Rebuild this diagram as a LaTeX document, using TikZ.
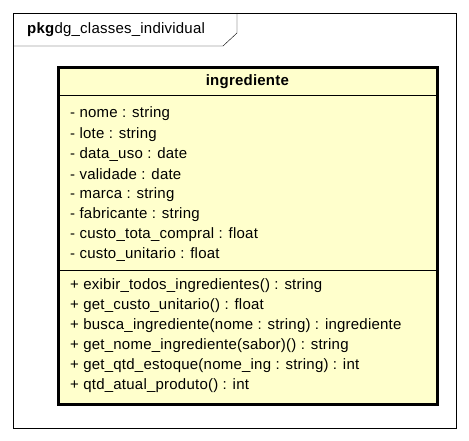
\documentclass[tikz,border=0pt]{standalone}
\usepackage{fontspec}
\setmainfont{Liberation Sans}
\definecolor{classfill}{HTML}{FFFFCC}
\begin{document}
\begin{tikzpicture}[x=1pt, y=-1pt,
    txt/.style={inner sep=0pt, anchor=west, font=\fontsize{15}{17}\selectfont\addfontfeature{LetterSpace=1.5}}]
    \useasboundingbox (0,0) rectangle (469,441);
    % package frame and its tab
    \draw (13,13) rectangle (456,428);
    \draw (13,46) -- (223,46) -- (237,33) -- (237,13);
    \node[txt] (pkg) at (27,30) {\textbf{pkg}dg\_classes\_individual};
    % class box
    \draw[fill=classfill, line width=3pt] (58,68) rectangle (437,404);
    \draw (58,95) -- (437,95);
    \draw (58,270) -- (437,270);
    \node[txt, anchor=center] (cls) at (247.5,82) {\textbf{ingrediente}};
    \foreach \t [count=\i] in {- nome : string, - lote : string, - data\_uso : date,
        - validade : date, - marca : string, - fabricante : string,
        - custo\_tota\_compral : float, - custo\_unitario : float}
        \node[txt] (att\i) at (70,94+20.1*\i) {\t};
    \foreach \t [count=\i] in {+ exibir\_todos\_ingredientes() : string,
        + get\_custo\_unitario() : float,
        + busca\_ingrediente(nome : string) : ingrediente,
        + get\_nome\_ingrediente(sabor)() : string,
        + get\_qtd\_estoque(nome\_ing : string) : int,
        + qtd\_atual\_produto() : int}
        \node[txt] (op\i) at (70,266+20*\i) {\t};
\end{tikzpicture}
\end{document}
